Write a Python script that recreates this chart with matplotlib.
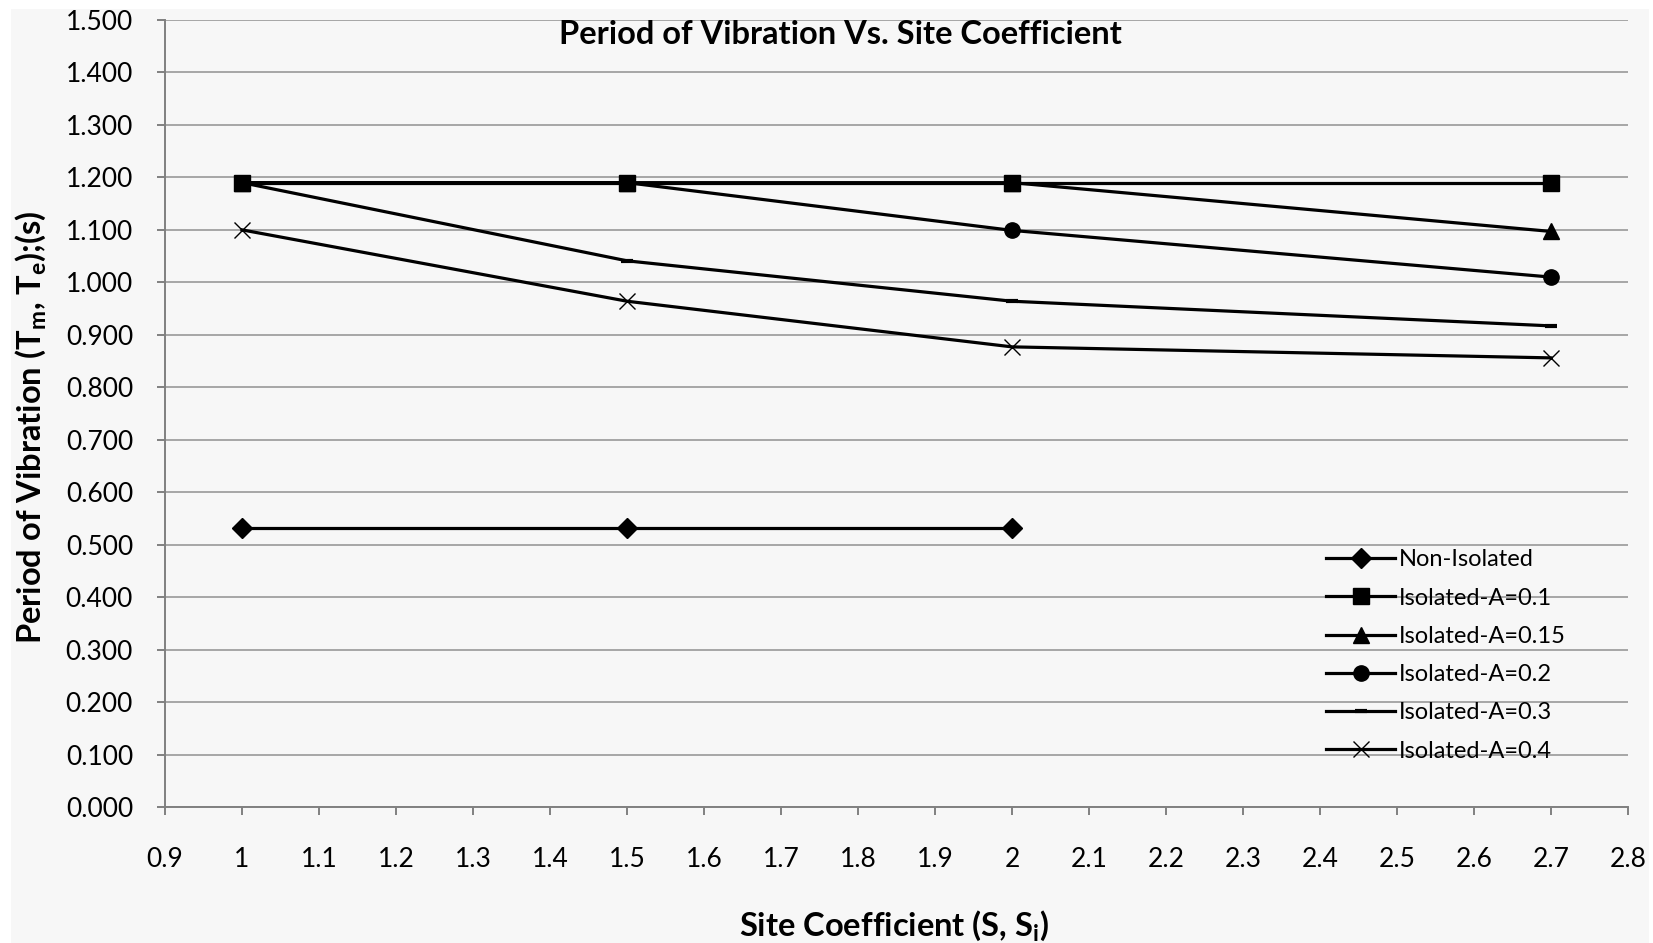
import matplotlib
matplotlib.use("Agg")
import matplotlib.pyplot as plt
from matplotlib.patches import Rectangle

plt.rcParams['font.family'] = ['Lato', 'DejaVu Sans']

# site coefficient values
site = [1, 1.5, 2, 2.7]
site_non = [1, 1.5, 2]

# period of vibration (s)
non_isolated = [0.532, 0.532, 0.532]
iso_a010 = [1.190, 1.190, 1.190, 1.190]
iso_a015 = [1.190, 1.190, 1.190, 1.097]
iso_a020 = [1.190, 1.190, 1.099, 1.010]
iso_a030 = [1.190, 1.041, 0.964, 0.917]
iso_a040 = [1.100, 0.964, 0.877, 0.856]

x_ticks = [0.9, 1, 1.1, 1.2, 1.3, 1.4, 1.5, 1.6, 1.7, 1.8, 1.9,
           2, 2.1, 2.2, 2.3, 2.4, 2.5, 2.6, 2.7, 2.8]
y_ticks = [0.0, 0.1, 0.2, 0.3, 0.4, 0.5, 0.6, 0.7, 0.8,
           0.9, 1.0, 1.1, 1.2, 1.3, 1.4, 1.5]

W, H = 1653, 943
fig = plt.figure(figsize=(W / 100, H / 100), dpi=100)
fig.patch.set_facecolor('white')
fig.patches.append(Rectangle((11 / W, 0), (1649 - 11) / W, (H - 9) / H,
                             transform=fig.transFigure, facecolor='#f7f7f7',
                             edgecolor='none', zorder=-10))

ax = fig.add_axes([165 / W, 1 - 807 / H, (1628 - 165) / W, (807 - 20) / H])
ax.set_facecolor('none')

lw = 2.3
ax.plot(site_non, non_isolated, '-', color='black', lw=lw, marker='D', ms=10,
        label='Non-Isolated')
ax.plot(site, iso_a010, '-', color='black', lw=lw, marker='s', ms=12,
        label='Isolated-A=0.1')
ax.plot(site, iso_a015, '-', color='black', lw=lw, marker='^', ms=11,
        label='Isolated-A=0.15')
ax.plot(site, iso_a020, '-', color='black', lw=lw, marker='o', ms=11,
        label='Isolated-A=0.2')
ax.plot(site, iso_a030, '-', color='black', lw=lw, marker='_', ms=8, mew=3,
        label='Isolated-A=0.3')
ax.plot(site, iso_a040, '-', color='black', lw=lw, marker='x', ms=11, mew=1.0,
        label='Isolated-A=0.4')

ax.set_xlim(0.9, 2.8)
ax.set_ylim(0, 1.5)
ax.set_xticks(x_ticks)
ax.set_xticklabels([f'{v:g}' for v in x_ticks])
ax.set_yticks(y_ticks)
ax.set_yticklabels([f'{v:.3f}' for v in y_ticks])

ax.grid(axis='y', color='#a6a6a6', lw=1.4)
ax.set_axisbelow(True)
for side in ['top', 'right']:
    ax.spines[side].set_visible(False)
for side in ['left', 'bottom']:
    ax.spines[side].set_color('#808080')
    ax.spines[side].set_linewidth(1.4)
ax.tick_params(axis='both', direction='out', length=6, width=1.4,
               color='#808080', labelsize=19, labelcolor='black')
ax.tick_params(axis='x', pad=23)
ax.tick_params(axis='y', pad=17)

ax.set_xlabel(r'Site Coefficient (S, S$\mathregular{_i}$)', fontsize=23.5,
              fontweight='bold', va='center')
ax.xaxis.set_label_coords(0.498, -0.151)
ax.set_ylabel(r'Period of Vibration (T$\mathregular{_m}$, T$\mathregular{_e}$);(s)',
              fontsize=23.5, fontweight='bold', va='center')
ax.yaxis.set_label_coords(-0.092, 0.482)

fig.text(840 / W, 1 - 34 / H, 'Period of Vibration Vs. Site Coefficient',
         ha='center', va='center', fontsize=23.5, fontweight='bold')

ax.legend(loc='upper left', bbox_to_anchor=((1317 - 165) / 1463, (807 - 540) / 787),
          frameon=False, fontsize=17, handlelength=2.9, handletextpad=0.15,
          labelspacing=0.73, borderaxespad=0)

fig.savefig('out.png', dpi=100, facecolor=fig.get_facecolor())
